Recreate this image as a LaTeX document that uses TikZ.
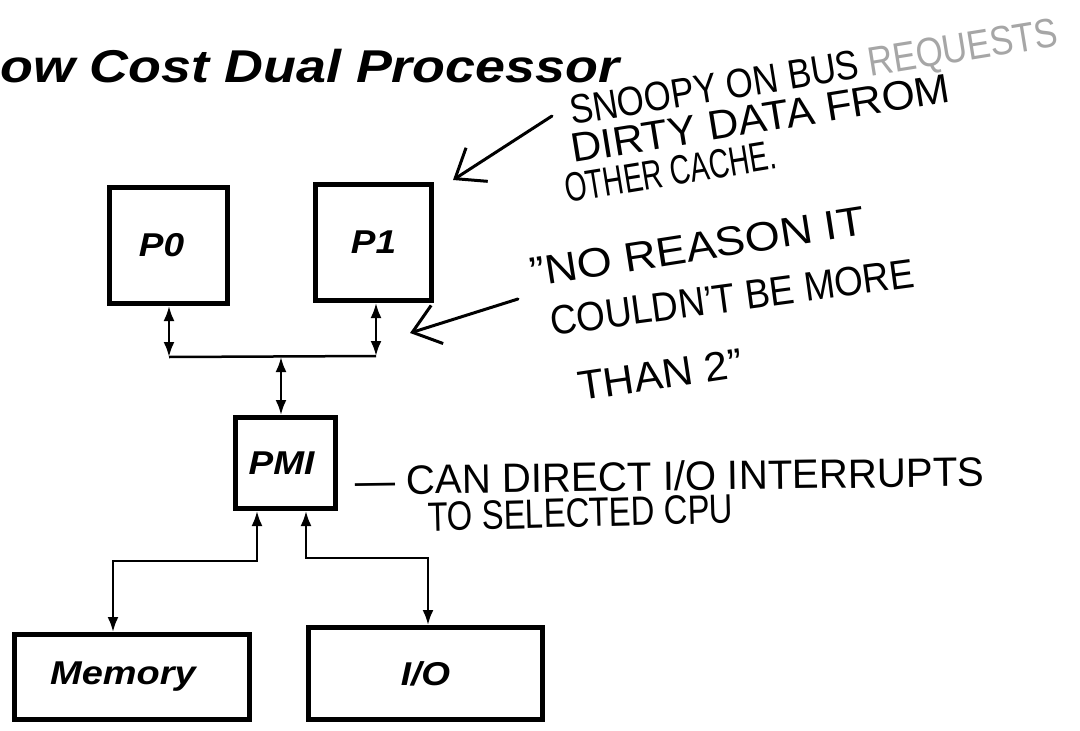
\documentclass[tikz,border=0pt]{standalone}
\usepackage{fontspec}
\setmainfont{Liberation Sans}
\usetikzlibrary{arrows.meta}
\tikzset{
  block/.style={draw, line width=5pt, font=\fontsize{33}{40}\selectfont\bfseries\itshape, inner sep=0pt},
  link/.style={line width=2.5pt, {Latex[length=15pt,width=11pt]}-{Latex[length=15pt,width=11pt]}},
  wire/.style={line width=2.5pt},
  pointer/.style={line width=3pt, line cap=round, -{Straight Barb[length=26pt,width=40pt,line width=3pt]}},
  note/.style={font=\fontsize{41}{46}\selectfont, anchor=base west, inner sep=0pt},
}
\begin{document}
\begin{tikzpicture}[x=1pt, y=-1pt]
\useasboundingbox (0,0) rectangle (1080,731);

% title
\node[anchor=base west, inner sep=0pt, xscale=1.17, font=\fontsize{46}{56}\selectfont\bfseries\itshape] (title) at (0,82) {ow Cost Dual Processor};

% blocks
\node[block, minimum width=118pt, minimum height=116pt] (p0) at (168.5,245.5) {\scalebox{1.12}[1]{P0}\hspace*{14pt}};
\node[block, minimum width=116pt, minimum height=116pt] (p1) at (373.5,242.5) {\scalebox{1.12}[1]{P1}};
\node[block, minimum width=100pt, minimum height=91pt] (pmi) at (285.5,463) {\scalebox{1.12}[1]{PMI}\hspace*{8pt}};
\node[block, minimum width=235pt, minimum height=85pt] (mem) at (132,677) {\scalebox{1.15}[1]{Memory}\hspace*{18pt}};
\node[block, minimum width=234pt, minimum height=92pt] (io) at (425.5,673.5) {\scalebox{1.12}[1]{I/O}};

% processor bus
\coordinate (busL) at (169,357);
\coordinate (busR) at (376,356);
\coordinate (busM) at (281,357);
\draw[link] (p0.south -| busL) -- (busL);
\draw[link] (p1.south -| busR) -- (busR);
\draw[wire] (busL) -- (busR);
\draw[link] (busM) -- (busM |- pmi.north);

% memory and I/O branches
\coordinate (m1) at (257,561);
\coordinate (m2) at (113,561);
\coordinate (i1) at (306,558);
\coordinate (i2) at (428,558);
\draw[link] (m1 |- pmi.south) -- (m1) -- (m2) -- (m2 |- mem.north);
\draw[link] (i1 |- pmi.south) -- (i1) -- (i2) -- (i2 |- io.north);

% handwritten notes
\node[note, rotate=9.2, xscale=0.85] (n1a) at (572,125) {SNOOPY ON BUS \textcolor{black!35}{REQUESTS}};
\node[note, rotate=9.2, xscale=1.04] (n1b) at (573,163) {DIRTY DATA FROM};
\node[note, rotate=9.3, xscale=0.69] (n1c) at (567,203) {OTHER CACHE.};
\coordinate (a1) at (552,116);
\draw[pointer] (a1) -- (453,180);

\node[note, rotate=8.9, xscale=1.1] (n2a) at (532,287) {"NO REASON IT};
\node[note, rotate=7.7, xscale=0.9] (n2b) at (552,336) {COULDN'T BE MORE};
\node[note, rotate=8.5, xscale=1.04] (n2c) at (580,401) {THAN 2"};
\coordinate (a2) at (518,299);
\draw[pointer] (a2) -- (410,333);

\node[note, rotate=0.8, xscale=0.98] (n3a) at (355,495) {— CAN DIRECT I/O INTERRUPTS};
\node[note, rotate=1.5, xscale=0.8] (n3b) at (428,531) {TO SELECTED CPU};
\end{tikzpicture}
\end{document}
